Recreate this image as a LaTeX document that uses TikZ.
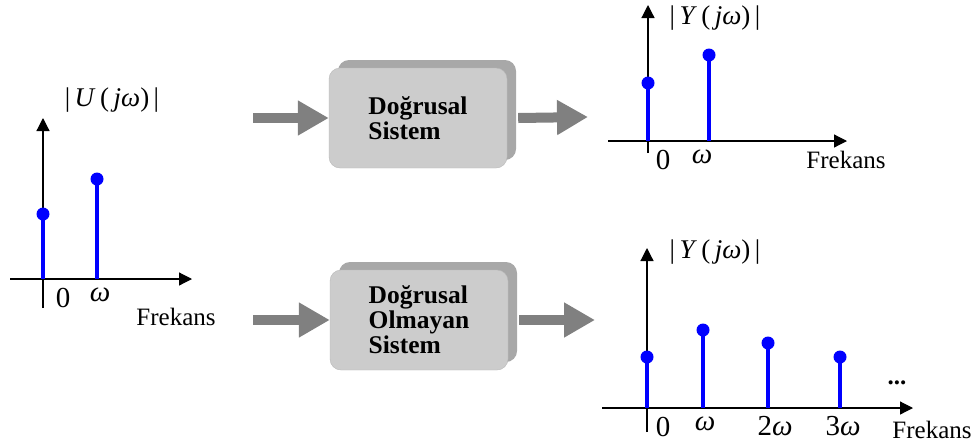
\documentclass[tikz,border=0pt]{standalone}
\usepackage{fontspec}
\setmainfont{Liberation Serif}
\usetikzlibrary{arrows.meta,positioning,shadows}

\tikzset{
  axis/.style={line width=1.2pt,-{Triangle[length=13pt,width=13pt]}},
  stem/.style={blue,line width=4.5pt},
  dot/.style={circle,fill=blue,inner sep=0pt,minimum size=13pt},
  lbl/.style={font=\fontsize{25}{28}\selectfont},
  maglbl/.style={font=\fontsize{27}{30}\selectfont},
  tick/.style={font=\fontsize{29}{32}\selectfont},
  sysbox/.style={rounded corners=11pt,fill=gray!40,draw=gray!55,
    minimum width=178pt,minimum height=100pt,align=left,
    font=\fontsize{25.5}{25}\selectfont\bfseries,
    drop shadow={shadow xshift=9pt,shadow yshift=8pt,fill=gray!68,opacity=1}},
  fatarrow/.style={draw=black!50,line width=10pt,-{Triangle[length=31pt,width=33pt]}}
}

\begin{document}
\begin{tikzpicture}[x=1pt,y=-1pt]
  \useasboundingbox (0,0) rectangle (977,445);

  % input spectrum
  \draw[axis] (43,308) -- (43,118);
  \draw[axis] (10,279) -- (192,279);
  \foreach \x/\h in {43/214,97/179}{
    \draw[stem] (\x,279) -- (\x,\h);
    \node[dot] at (\x,\h) {};
  }
  \node[maglbl] (ulabel) at (112,100) {|\,\textit{U}\,(\,\textit{jω})\,|};
  \node[tick] (u0) at (63,298) {0};
  \node[tick] (uw) at (100,295) {\textit{ω}};
  \node[lbl] (ufreq) at (176,317) {Frekans};

  % systems
  \node[sysbox] (lin) at (418,118) {Doğrusal\\Sistem};
  \node[sysbox] (nonlin) at (419,320) {Doğrusal\\Olmayan\\Sistem};

  \coordinate (inA) at (253,118);
  \coordinate (outA) at (588,117);
  \coordinate (inB) at (253,320);
  \coordinate (outB) at (595,320);
  \draw[fatarrow] (inA) -- (lin.west);
  \draw[fatarrow] ([xshift=11pt]lin.east) -- (outA);
  \draw[fatarrow] (inB) -- (nonlin.west);
  \draw[fatarrow] ([xshift=11pt]nonlin.east) -- (outB);

  % linear output
  \draw[axis] (648,153) -- (648,5);
  \draw[axis] (608,141) -- (847,141);
  \foreach \x/\h in {648/83,709/55}{
    \draw[stem] (\x,141) -- (\x,\h);
    \node[dot] at (\x,\h) {};
  }
  \node[maglbl] (ylabelA) at (715,18) {|\,\textit{Y}\,(\,\textit{jω})\,|};
  \node[tick] (yA0) at (663,160) {0};
  \node[tick] (yAw) at (702,157) {\textit{ω}};
  \node[lbl] (yAfreq) at (846,160) {Frekans};

  % nonlinear output
  \draw[axis] (647,432) -- (647,248);
  \draw[axis] (602,408) -- (913,408);
  \foreach \x/\h in {647/357,703/330,768/343,840/357}{
    \draw[stem] (\x,408) -- (\x,\h);
    \node[dot] at (\x,\h) {};
  }
  \node[maglbl] (ylabelB) at (715,252) {|\,\textit{Y}\,(\,\textit{jω})\,|};
  \node[tick] (yB0) at (663,427) {0};
  \node[tick] (yBw) at (705,424) {\textit{ω}};
  \node[tick] (yB2w) at (775,426) {2\textit{ω}};
  \node[tick] (yB3w) at (843,426) {3\textit{ω}};
  \node[lbl] (yBfreq) at (932,430) {Frekans};
  \node[lbl,font=\fontsize{25}{28}\selectfont\bfseries] (dots) at (897,383) {...};
\end{tikzpicture}
\end{document}
